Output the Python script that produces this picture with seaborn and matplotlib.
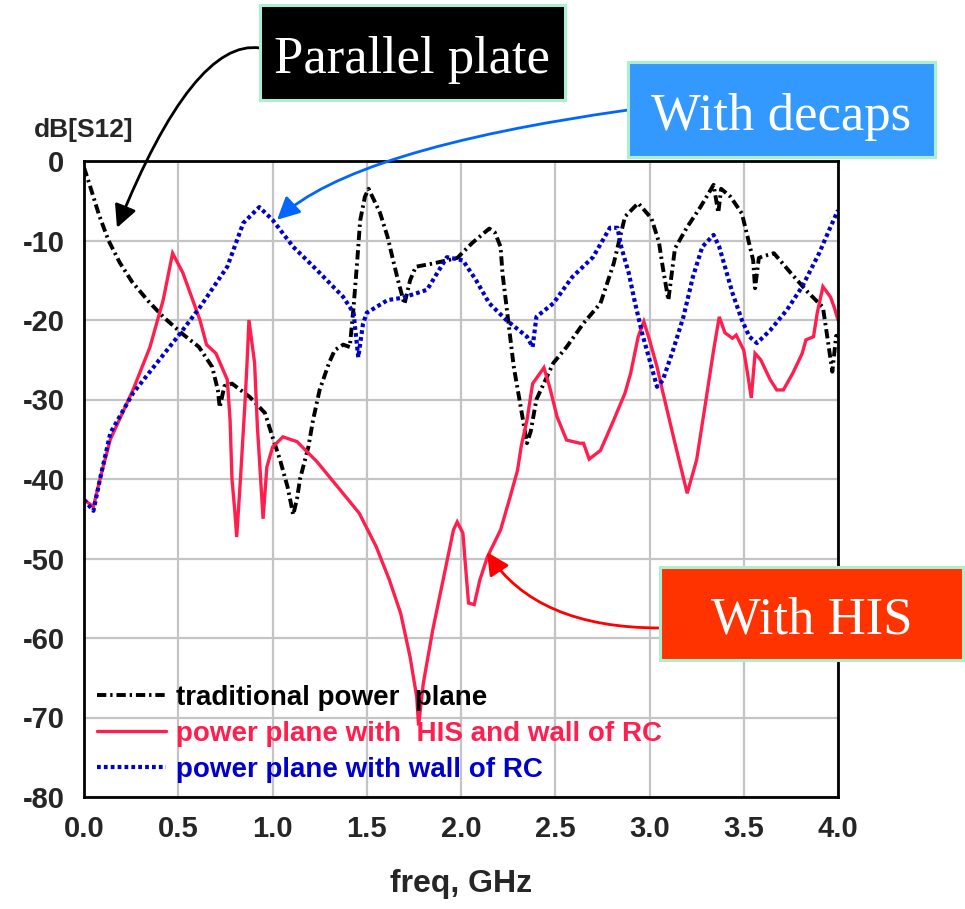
import numpy as np
import pandas as pd
import matplotlib
matplotlib.use("Agg")
import matplotlib.pyplot as plt
from matplotlib.patches import Rectangle
from matplotlib.ticker import MultipleLocator, FormatStrFormatter
import seaborn as sns

# ---- measured S12 curves (frequency in GHz, magnitude in dB) ----
freq_trad = [0.0, 0.03, 0.08, 0.13, 0.19, 0.255, 0.34, 0.42, 0.52, 0.61, 0.68, 0.71, 0.72,
             0.745, 0.785, 0.83, 0.88, 0.96, 1.0, 1.04, 1.08, 1.11, 1.13, 1.146, 1.19, 1.215,
             1.25, 1.30, 1.33, 1.375, 1.41, 1.43, 1.45, 1.465, 1.49, 1.51, 1.54, 1.57, 1.61,
             1.64, 1.67, 1.70, 1.73, 1.76, 1.85, 1.98, 2.06, 2.15, 2.18, 2.21, 2.22, 2.25,
             2.28, 2.31, 2.35, 2.37, 2.40, 2.49, 2.56, 2.65, 2.74, 2.81, 2.87, 2.94, 3.01,
             3.05, 3.07, 3.10, 3.135, 3.20, 3.27, 3.34, 3.365, 3.38, 3.43, 3.49, 3.52, 3.55,
             3.56, 3.58, 3.60, 3.66, 3.75, 3.84, 3.92, 3.94, 3.97, 3.99, 4.0]
db_trad = [-0.8, -3.0, -6.8, -10.0, -12.8, -15.2, -17.6, -19.6, -21.7, -23.4, -25.9, -28.8, -31.0,
           -28.3, -28.0, -28.8, -29.7, -31.7, -34.7, -37.6, -41.0, -44.5, -42.5, -40.0, -36.0, -32.6,
           -28.8, -25.4, -23.8, -23.1, -23.4, -18.4, -12.4, -7.5, -4.5, -3.5, -5.0, -6.5, -9.5,
           -12.5, -15.4, -18.0, -15.0, -13.3, -12.9, -12.2, -10.3, -8.5, -9.0, -10.8, -14.1, -20.0,
           -25.9, -30.0, -35.5, -34.0, -30.0, -25.4, -23.4, -20.4, -17.9, -12.9, -7.0, -5.3, -7.2,
           -10.2, -13.3, -17.5, -11.0, -8.3, -5.8, -3.0, -6.5, -3.5, -4.5, -6.6, -9.5, -12.5,
           -16.0, -12.2, -12.0, -11.6, -14.1, -16.5, -18.4, -21.6, -26.5, -22.0, -22.0]

freq_his = [0.0, 0.05, 0.09, 0.14, 0.26, 0.35, 0.42, 0.47, 0.525, 0.615, 0.65, 0.70, 0.76, 0.775,
            0.785, 0.80, 0.81, 0.83, 0.855, 0.865, 0.875, 0.905, 0.92, 0.935, 0.95, 0.97, 1.0,
            1.055, 1.13, 1.235, 1.36, 1.46, 1.55, 1.62, 1.68, 1.73, 1.765, 1.775, 1.80, 1.85,
            1.905, 1.96, 1.98, 2.01, 2.02, 2.04, 2.07, 2.10, 2.14, 2.21, 2.26, 2.30, 2.32, 2.35,
            2.38, 2.44, 2.47, 2.51, 2.56, 2.63, 2.65, 2.68, 2.74, 2.81, 2.87, 2.90, 2.94, 2.97,
            3.0, 3.04, 3.07, 3.135, 3.20, 3.25, 3.30, 3.34, 3.37, 3.40, 3.44, 3.46, 3.50, 3.52,
            3.54, 3.56, 3.59, 3.64, 3.675, 3.71, 3.76, 3.81, 3.83, 3.87, 3.89, 3.92, 3.96, 3.98, 4.0]
db_his = [-42.6, -43.5, -39.5, -35.0, -28.8, -23.4, -17.5, -11.6, -14.1, -20.0, -23.1, -24.2, -27.5, -32.6,
          -40.0, -44.0, -47.3, -40.0, -30.0, -25.4, -20.0, -25.4, -33.5, -39.2, -45.0, -38.5, -36.0,
          -34.7, -35.3, -37.8, -41.4, -44.3, -48.5, -52.7, -56.9, -62.4, -67.4, -71.0, -65.7, -59.0,
          -52.7, -46.4, -45.4, -46.8, -49.8, -55.6, -55.8, -52.7, -49.8, -46.4, -42.3, -38.9, -35.8, -32.6,
          -28.0, -26.0, -28.4, -32.2, -35.1, -35.5, -35.5, -37.5, -36.4, -32.6, -29.2, -26.7, -22.1, -20.2,
          -22.5, -25.9, -29.0, -35.5, -41.8, -37.6, -30.0, -23.8, -19.6, -21.6, -22.3, -21.9, -23.8, -26.7,
          -29.8, -24.2, -25.0, -27.5, -28.8, -28.8, -26.7, -24.2, -22.5, -22.1, -19.1, -15.8, -17.1, -18.4, -20.0]

freq_rc = [0.0, 0.05, 0.085, 0.14, 0.26, 0.40, 0.51, 0.615, 0.76, 0.845, 0.93, 1.0, 1.11, 1.235,
           1.375, 1.43, 1.455, 1.48, 1.50, 1.61, 1.69, 1.82, 1.925, 2.01, 2.08, 2.15, 2.24, 2.35,
           2.38, 2.40, 2.49, 2.59, 2.70, 2.79, 2.83, 2.85, 2.89, 2.92, 2.96, 3.0, 3.04, 3.07,
           3.125, 3.18, 3.23, 3.28, 3.34, 3.37, 3.41, 3.44, 3.49, 3.53, 3.57, 3.64, 3.73, 3.81,
           3.90, 3.96, 4.0]
db_rc = [-42.6, -44.0, -40.0, -34.2, -29.2, -25.0, -21.7, -18.4, -13.3, -7.8, -5.8, -7.4, -10.8, -13.7,
         -17.1, -19.1, -24.7, -20.5, -19.1, -17.5, -17.2, -16.2, -12.1, -12.5, -15.0, -17.9, -20.0, -22.1,
         -23.4, -19.6, -17.9, -14.6, -12.1, -8.4, -8.4, -10.8, -14.1, -17.5, -21.6, -25.0, -28.4, -27.6,
         -23.8, -19.6, -14.6, -10.8, -9.3, -10.8, -14.1, -16.6, -20.0, -22.1, -22.9, -21.3, -18.7, -15.8,
         -11.6, -8.3, -6.2]

labels = ["traditional power  plane",
          "power plane with  HIS and wall of RC",
          "power plane with wall of RC"]
x_ticks = [0.0, 0.5, 1.0, 1.5, 2.0, 2.5, 3.0, 3.5, 4.0]
y_ticks = [-80, -70, -60, -50, -40, -30, -20, -10, 0]

# ---- style ----
sns.set_style("white")
plt.rcParams["font.family"] = ["Liberation Sans", "DejaVu Sans"]
plt.rcParams["font.weight"] = "bold"
plt.rcParams["axes.unicode_minus"] = False

W, H = 965, 909
fig = plt.figure(figsize=(W / 100, H / 100), dpi=100)
ax = fig.add_axes([84 / W, 112 / H, 754 / W, 636 / H])

C_BLACK = "#000000"
C_RED = "#ff1f4f"
C_BLUE = "#0000cc"

sns.lineplot(x=freq_trad, y=db_trad, ax=ax, color=C_BLACK, lw=2.8, sort=False,
             estimator=None, label=labels[0], linestyle=(0, (2.4, 1.0, 0.6, 1.0)))
sns.lineplot(x=freq_his, y=db_his, ax=ax, color=C_RED, lw=2.4, sort=False,
             estimator=None, label=labels[1], linestyle="-")
sns.lineplot(x=freq_rc, y=db_rc, ax=ax, color=C_BLUE, lw=3.0, sort=False,
             estimator=None, label=labels[2], linestyle=(0, (0.9, 0.75)))
for ln in ax.lines:
    ln.set_dash_capstyle("butt")
    ln.set_solid_joinstyle("miter")

ax.set_xlim(0, 4)
ax.set_ylim(-80, 0)
ax.set_xticks(x_ticks)
ax.set_yticks(y_ticks)
ax.xaxis.set_major_formatter(FormatStrFormatter("%.1f"))
ax.xaxis.set_minor_locator(MultipleLocator(0.1))
ax.yaxis.set_minor_locator(MultipleLocator(2))
ax.tick_params(axis="both", which="both", direction="out", color="black", labelsize=21)
ax.tick_params(axis="x", which="major", length=11, width=1.6, pad=2)
ax.tick_params(axis="y", which="major", length=13, width=1.6, pad=1)
ax.tick_params(axis="both", which="minor", length=6, width=1.4)
ax.tick_params(top=False, right=False)
ax.grid(True, which="major", color="#c4c4c4", lw=1.6)
ax.set_axisbelow(True)
for sp in ax.spines.values():
    sp.set_color("black")
    sp.set_linewidth(2.0)
ax.set_xlabel("")
ax.set_ylabel("")

fig.text(84 / W, 1 - 130 / H, "dB[S12]", ha="center", va="center", fontsize=19, fontweight="bold")
fig.text(461 / W, 1 - 884 / H, "freq, GHz", ha="center", va="center", fontsize=23, fontweight="bold")

leg = ax.legend(loc="upper left", bbox_to_anchor=(97 / W, 1 - 685 / H), bbox_transform=fig.transFigure,
                frameon=False, handlelength=2.5, handletextpad=0.36,
                labelspacing=0.36, borderaxespad=0, borderpad=0, labelcolor="linecolor",
                prop={"weight": "bold", "size": 20})

# ---- callout boxes with arrows ----
boxes = [
    ("Parallel plate", (260, 5, 565, 100), "#000000", C_BLACK, (260, 48), (0.175, -8.4), -8.5, 68),
    ("With decaps", (628, 62, 935, 157), "#3399ff", "#0066ff", (628, 110), (1.024, -7.4), 8, 43),
    ("With HIS", (660, 567, 963, 660), "#ff3300", "#ff0000", (660, 628), (2.138, -49.2), 0, 123),
]
for text, (x0, y0, x1, y1), fc, ac, start, tip, ang_a, ang_b in boxes:
    ax.annotate("", xy=tip, xycoords="data",
                xytext=(start[0] / W, 1 - start[1] / H), textcoords="figure fraction",
                annotation_clip=False, zorder=20,
                arrowprops=dict(arrowstyle="-|>",
                                connectionstyle=f"angle3,angleA={ang_a},angleB={ang_b}",
                                color=ac, lw=2.0, mutation_scale=34, shrinkA=0, shrinkB=0))
    fig.add_artist(Rectangle((x0 / W, 1 - y1 / H), (x1 - x0) / W, (y1 - y0) / H,
                             transform=fig.transFigure, facecolor=fc, edgecolor="#a8f0d0",
                             lw=2.2, zorder=30))
    fig.text((x0 + x1) / 2 / W, 1 - (y1 - 27) / H, text, ha="center", va="baseline",
             color="white", fontsize=38, family=["Liberation Serif", "DejaVu Serif"],
             fontweight="normal", zorder=31)

fig.savefig("out.png", dpi=100)
